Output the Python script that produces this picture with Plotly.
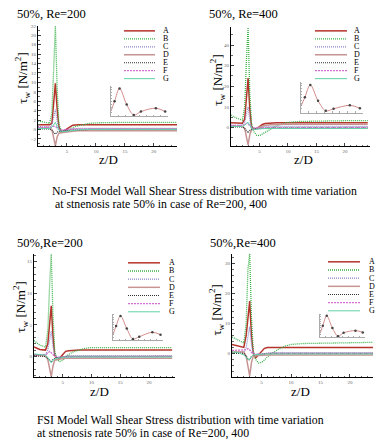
import plotly.graph_objects as go

W, H = 387, 447

# ---------------- data ----------------
z = [0, 1, 2, 2.4, 2.7, 3.0, 3.3, 3.6, 4.0, 4.5, 5, 5.5, 6, 7, 8, 9, 10, 12, 15, 18, 21, 24]
series_names = ["A", "B", "C", "D", "E", "F", "G"]

# No-FSI, Re=200
A1 = [1.0, 1.0, 1.0, 1.3, 5.0, 9.8, 4.5, 0.6, -0.6, -0.4, 0.1, 0.6, 0.9, 1.0, 1.0, 1.0, 1.0, 1.0, 1.0, 1.0, 1.0, 1.0]
B1 = [1.8, 1.5, 1.3, 3.5, 12.0, 22.0, 9.0, 1.2, -0.3, -0.4, -0.3, 0.0, 0.4, 0.8, 1.1, 1.3, 1.4, 1.5, 1.5, 1.5, 1.5, 1.5]
C1 = [0.6, 0.5, 0.5, 1.0, 2.6, 4.2, 1.8, 0.2, -0.4, -0.4, -0.2, 0.0, 0.1, 0.2, 0.2, 0.2, 0.2, 0.2, 0.2, 0.2, 0.2, 0.2]
D1 = [0.3, 0.3, 0.3, 0.0, -1.6, -3.5, -1.6, -0.8, -0.7, -0.6, -0.5, -0.4, -0.4, -0.3, -0.3, -0.3, -0.3, -0.3, -0.3, -0.3, -0.3, -0.3]
E1 = [0.1, 0.1, 0.1, -0.2, -0.7, -1.0, -0.6, -0.4, -0.4, -0.3, -0.2, -0.2, -0.1, -0.1, 0.0, 0.0, 0.0, 0.0, 0.0, 0.0, 0.0, 0.0]
F1 = [0.4, 0.4, 0.4, 0.5, 0.7, 0.6, 0.3, 0.0, -0.1, -0.1, 0.0, 0.0, 0.1, 0.1, 0.1, 0.1, 0.1, 0.1, 0.1, 0.1, 0.1, 0.1]
G1 = [0.2, 0.2, 0.2, 0.5, 1.1, 1.5, 0.6, -0.2, -0.5, -0.5, -0.4, -0.3, -0.2, -0.1, 0.0, 0.0, 0.0, 0.0, 0.0, 0.0, 0.0, 0.0]

# No-FSI, Re=400
A2 = [2.3, 2.2, 2.0, 4.0, 14.0, 24.0, 9.0, 0.5, -1.0, -0.6, 0.4, 1.4, 1.9, 2.2, 2.2, 2.2, 2.2, 2.2, 2.2, 2.2, 2.2, 2.2]
B2 = [6.0, 4.5, 3.5, 10.0, 32.0, 49.0, 16.0, 2.0, -2.0, -3.8, -4.0, -3.2, -2.2, -0.6, 0.8, 1.8, 2.4, 2.9, 3.1, 3.2, 3.3, 3.3]
C2 = [1.0, 1.0, 1.0, 2.5, 6.5, 10.0, 3.5, 0.0, -1.0, -0.6, -0.2, 0.2, 0.4, 0.5, 0.5, 0.5, 0.5, 0.5, 0.5, 0.5, 0.5, 0.5]
D2 = [0.5, 0.5, 0.5, -0.5, -4.0, -8.5, -3.5, -1.2, -0.8, -0.4, 0.2, 0.7, 1.0, 1.3, 1.5, 1.5, 1.5, 1.5, 1.5, 1.5, 1.5, 1.5]
E2 = [0.2, 0.2, 0.2, -0.5, -1.8, -2.6, -1.5, -0.8, -0.6, -0.5, -0.4, -0.3, -0.2, -0.2, -0.2, -0.2, -0.2, -0.2, -0.2, -0.2, -0.2, -0.2]
F2 = [1.0, 1.0, 1.0, 1.4, 2.0, 1.6, 0.5, 0.0, -0.3, -0.3, -0.2, -0.1, 0.0, 0.0, 0.0, 0.0, 0.0, 0.0, 0.0, 0.0, 0.0, 0.0]
G2 = [0.5, 0.5, 0.5, 1.0, 2.0, 2.5, 1.0, -0.5, -1.0, -1.0, -0.8, -0.6, -0.5, -0.5, -0.5, -0.5, -0.5, -0.5, -0.5, -0.5, -0.5, -0.5]

# FSI, Re=200
A3 = [1.5, 1.1, 1.0, 2.0, 5.0, 8.0, 3.2, 0.2, -0.5, -0.3, 0.3, 0.8, 0.9, 1.0, 1.0, 1.0, 1.0, 1.0, 1.0, 1.0, 1.0, 1.0]
B3 = [2.5, 1.8, 1.5, 4.0, 11.0, 16.2, 6.5, 0.8, -0.5, -0.8, -0.6, -0.2, 0.3, 0.8, 1.1, 1.3, 1.4, 1.4, 1.4, 1.4, 1.4, 1.4]
C3 = [0.3, 0.2, 0.2, 1.0, 2.5, 4.0, 1.5, 0.3, -0.2, -0.2, -0.1, 0.0, 0.1, 0.1, 0.1, 0.1, 0.1, 0.1, 0.1, 0.1, 0.1, 0.1]
D3 = [0.2, 0.1, 0.1, -0.5, -1.8, -3.2, -1.5, -0.6, -0.5, -0.4, -0.4, -0.3, -0.3, -0.3, -0.3, -0.3, -0.3, -0.3, -0.3, -0.3, -0.3, -0.3]
E3 = [0.1, 0.0, 0.0, -0.3, -0.7, -0.9, -0.5, -0.3, -0.2, -0.2, -0.1, 0.0, 0.0, 0.0, 0.0, 0.0, 0.0, 0.0, 0.0, 0.0, 0.0, 0.0]
F3 = [0.3, 0.3, 0.3, 0.5, 0.8, 0.6, 0.2, 0.0, -0.1, -0.1, 0.0, 0.0, 0.0, 0.0, 0.0, 0.0, 0.0, 0.0, 0.0, 0.0, 0.0, 0.0]
G3 = [0.4, 0.3, 0.2, -0.2, -0.7, -1.0, -0.6, -0.4, -0.3, -0.2, -0.2, -0.1, -0.1, -0.1, -0.1, -0.1, -0.1, -0.1, -0.1, -0.1, -0.1, -0.1]

# FSI, Re=400
A4 = [3.0, 2.5, 2.0, 6.0, 13.0, 17.5, 6.0, 0.0, -1.5, -0.5, 0.8, 1.7, 2.0, 2.0, 2.0, 2.0, 2.0, 2.0, 2.0, 2.0, 2.0, 2.0]
B4 = [5.5, 4.5, 3.5, 10.0, 28.0, 33.5, 12.0, 1.0, -2.0, -3.2, -3.0, -2.2, -1.2, 0.3, 1.5, 2.4, 3.0, 3.3, 3.5, 3.5, 3.6, 3.7]
C4 = [0.5, 0.5, 0.5, 2.0, 6.0, 9.0, 3.0, 0.0, -0.5, -0.4, -0.2, 0.0, 0.1, 0.2, 0.2, 0.2, 0.2, 0.2, 0.2, 0.2, 0.2, 0.2]
D4 = [0.5, 0.5, 0.5, -1.0, -4.0, -7.5, -3.0, -1.0, -0.8, -0.7, -0.6, -0.5, -0.5, -0.5, -0.5, -0.5, -0.5, -0.5, -0.5, -0.5, -0.5, -0.5]
E4 = [0.0, 0.0, 0.0, -0.8, -2.0, -2.2, -1.0, -0.5, -0.4, -0.3, -0.2, -0.1, 0.0, 0.0, 0.0, 0.0, 0.0, 0.0, 0.0, 0.0, 0.0, 0.0]
F4 = [1.0, 1.0, 1.0, 1.2, 1.6, 1.2, 0.3, -0.2, -0.3, -0.2, -0.1, 0.0, 0.0, 0.0, 0.0, 0.0, 0.0, 0.0, 0.0, 0.0, 0.0, 0.0]
G4 = [0.5, 0.3, -0.5, -1.2, -2.0, -2.0, -1.0, -0.5, -0.4, -0.3, -0.2, -0.2, -0.2, -0.2, -0.2, -0.2, -0.2, -0.2, -0.2, -0.2, -0.2, -0.2]

# insets (time variation of peak)
inset_t = [0.0, 0.5, 1.2, 2.2, 3.2, 4.2, 6.3, 7.6]
inset1_v = [0.16, 0.50, 0.95, 0.39, 0.02, 0.14, 0.26, 0.14]
inset2_v = [0.20, 0.50, 0.93, 0.38, 0.03, 0.10, 0.22, 0.12]
inset3_v = [0.20, 0.55, 0.95, 0.45, 0.03, 0.12, 0.30, 0.20]
inset4_v = [0.15, 0.50, 0.95, 0.40, 0.03, 0.18, 0.28, 0.20]

titles = ["50%, Re=200", "50%, Re=400", "50%,Re=200", "50%,Re=400"]
y_ticks = [[-2, 0, 2, 4, 6, 8, 10, 12, 14, 16, 18, 20, 22], [0, 10, 20, 30, 40],
           [0, 5, 10, 15], [0, 10, 20, 30]]
x_ticks = [5, 10, 15, 20]
caption1 = ["No-FSI Model Wall Shear Stress distribution with time variation",
            " at stnenosis rate 50% in case of Re=200, 400"]
caption2 = ["FSI Model Wall Shear Stress distribution with time variation",
            "at stnenosis rate 50% in case of Re=200, 400"]

panels_data = [[A1, B1, C1, D1, E1, F1, G1], [A2, B2, C2, D2, E2, F2, G2],
               [A3, B3, C3, D3, E3, F3, G3], [A4, B4, C4, D4, E4, F4, G4]]
insets_data = [inset1_v, inset2_v, inset3_v, inset4_v]

# ---------------- styles / layout ----------------
styles = [
    dict(color="#b5332a", width=1.5, dash="solid"),
    dict(color="#3db24a", width=1.3, dash="1px,1px"),
    dict(color="#8a86c8", width=1.2, dash="1px,1px"),
    dict(color="#c79494", width=1.5, dash="solid"),
    dict(color="#303030", width=1.2, dash="1px,1px"),
    dict(color="#d271d2", width=1.3, dash="2px,1px"),
    dict(color="#5fd3a6", width=1.0, dash="solid"),
]

def fx(p):
    return p / W

def fy(p):
    return 1 - p / H

geo = [
    dict(x0=38, x1=177, yt=24, yb=145, xr=[0, 24], yr=[-3.6, 22.0], mdt=1,
         title=(15, 12), ytit=(22, 77), xtit=(108, 158), leg=(124, 155, 161, 29, 8.0),
         ins=(111, 168, 84, 115)),
    dict(x0=231, x1=370, yt=25, yb=145, xr=[0, 24.4], yr=[-9.2, 48.8], mdt=5,
         title=(207, 12), ytit=(217, 78), xtit=(303, 158), leg=(315, 347, 352, 29, 8.0),
         ins=(301, 363, 80, 111)),
    dict(x0=34, x1=175, yt=253, yb=377, xr=[0, 24.5], yr=[-3.3, 16.2], mdt=1,
         title=(15, 242), ytit=(20, 307), xtit=(100, 391), leg=(128, 160, 167, 262, 8.2),
         ins=(113, 163, 313, 340)),
    dict(x0=232, x1=373, yt=253, yb=377, xr=[0, 23.9], yr=[-8.0, 33.3], mdt=2,
         title=(208, 242), ytit=(216, 310), xtit=(300, 391), leg=(328, 360, 367, 261, 8.2),
         ins=(320, 365, 313, 337)),
]

serif = "Liberation Serif, Times New Roman, serif"
fig = go.Figure()
layout = dict(width=W, height=H, margin=dict(l=0, r=0, t=0, b=0),
              paper_bgcolor="white", plot_bgcolor="rgba(0,0,0,0)",
              showlegend=False, font=dict(family=serif, color="black"))
annotations = []
shapes = []

for i, g in enumerate(geo):
    ax = i + 1
    xa = "x" if ax == 1 else f"x{ax}"
    ya = "y" if ax == 1 else f"y{ax}"
    for k, name in enumerate(series_names):
        fig.add_trace(go.Scatter(x=z, y=panels_data[i][k], mode="lines", name=name,
                                 line=styles[k], xaxis=xa, yaxis=ya, cliponaxis=True))
    common = dict(showline=True, linecolor="black", linewidth=1, showgrid=False,
                  zeroline=False, ticks="inside", ticklen=3, tickcolor="#444",
                  tickfont=dict(size=5, color="#666", family=serif))
    layout[f"xaxis{'' if ax == 1 else ax}"] = dict(
        common, domain=[fx(g["x0"]), fx(g["x1"])], range=g["xr"], anchor=ya,
        tickvals=x_ticks, minor=dict(ticks="inside", ticklen=1.5, dtick=1, tickcolor="#666"))
    layout[f"yaxis{'' if ax == 1 else ax}"] = dict(
        common, domain=[fy(g["yb"]), fy(g["yt"])], range=g["yr"], anchor=xa,
        tickvals=y_ticks[i], minor=dict(ticks="inside", ticklen=1.5, dtick=g["mdt"], tickcolor="#666"))

    annotations.append(dict(x=fx(g["title"][0]), y=fy(g["title"][1]), xref="paper", yref="paper",
                            text=titles[i], showarrow=False, xanchor="left", yanchor="middle",
                            font=dict(size=12.5, family=serif)))
    annotations.append(dict(x=fx(g["ytit"][0]), y=fy(g["ytit"][1]), xref="paper", yref="paper",
                            text="τ<sub>w</sub> [N/m<sup>2</sup>]", textangle=-90, showarrow=False,
                            xanchor="center", yanchor="middle", font=dict(size=13, family=serif)))
    annotations.append(dict(x=fx(g["xtit"][0]), y=fy(g["xtit"][1]), xref="paper", yref="paper",
                            text="z/D", showarrow=False, xanchor="center", yanchor="middle",
                            font=dict(size=13, family=serif)))
    lx0, lx1, tx, ly0, dy = g["leg"]
    for k, name in enumerate(series_names):
        yy = ly0 + k * dy
        shapes.append(dict(type="line", xref="paper", yref="paper", x0=fx(lx0), x1=fx(lx1),
                           y0=fy(yy), y1=fy(yy), line=styles[k]))
        annotations.append(dict(x=fx(tx), y=fy(yy), xref="paper", yref="paper", text=name,
                                showarrow=False, xanchor="left", yanchor="middle",
                                font=dict(size=8, family=serif)))
    ia = ax + 4
    ix0, ix1, iyt, iyb = g["ins"]
    fig.add_trace(go.Scatter(x=inset_t, y=insets_data[i], mode="lines",
                             line=dict(color="#d48a8a", width=1, shape="spline"),
                             xaxis=f"x{ia}", yaxis=f"y{ia}"))
    fig.add_trace(go.Scatter(x=inset_t[1:], y=insets_data[i][1:], mode="markers",
                             marker=dict(color="#444", size=2.5),
                             xaxis=f"x{ia}", yaxis=f"y{ia}"))
    ic = dict(showline=True, linecolor="#aaa", linewidth=0.7, showgrid=False, zeroline=False,
              ticks="inside", ticklen=1.5, tickcolor="#aaa", showticklabels=False)
    layout[f"xaxis{ia}"] = dict(ic, domain=[fx(ix0), fx(ix1)], range=[0, 8], anchor=f"y{ia}",
                                dtick=1)
    layout[f"yaxis{ia}"] = dict(ic, domain=[fy(iyb), fy(iyt)], range=[-0.03, 1.05],
                                anchor=f"x{ia}", dtick=0.1)

cap_font = dict(size=11.8, family=serif)
for (xp, yp, txt) in [(50, 190, caption1[0]), (50, 203, caption1[1]),
                      (35, 420, caption2[0]), (35, 433, caption2[1])]:
    annotations.append(dict(x=fx(xp), y=fy(yp), xref="paper", yref="paper", text=txt,
                            showarrow=False, xanchor="left", yanchor="middle", font=cap_font))

layout["annotations"] = annotations
layout["shapes"] = shapes
fig.update_layout(**layout)
fig.write_html("out.html")
